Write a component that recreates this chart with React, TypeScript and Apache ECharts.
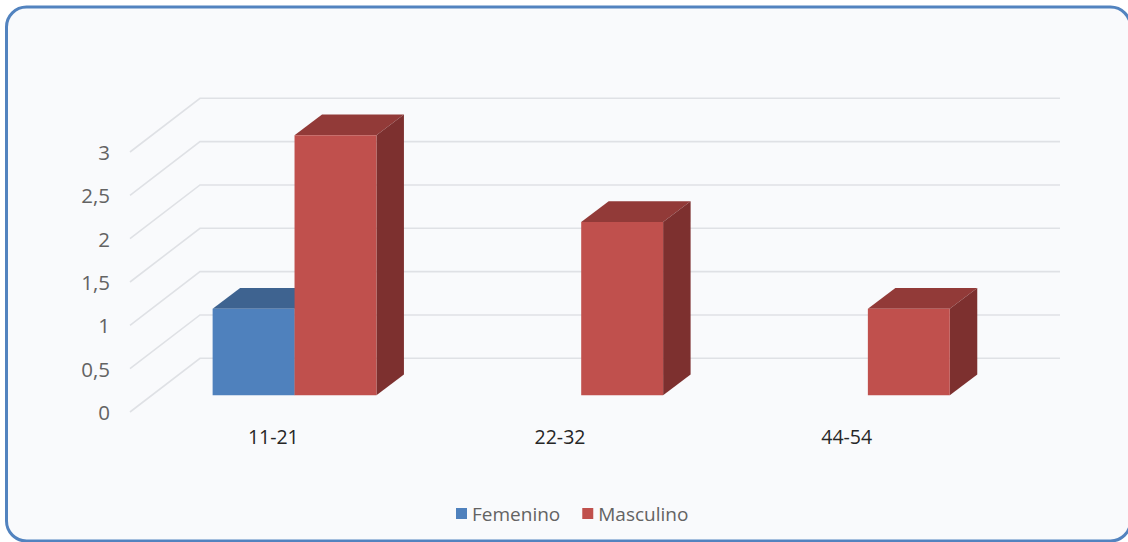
import React, { useEffect, useRef } from "react";
import * as echarts from "echarts";

const categories = ["11-21", "22-32", "44-54"];
const femenino: (number | null)[] = [1, null, null];
const masculino: (number | null)[] = [3, 2, 1];
const yTicks = [0, 0.5, 1, 1.5, 2, 2.5, 3];

const FONT = "'Open Sans', Lato, sans-serif";
const WALL_DX = 70;
const WALL_DY = -53.7;
const FRONT_DX = 21.2;
const FRONT_DY = -16.7;
const BAR_DX = 27.5;
const BAR_DY = -20.7;
const BARS_PER_BAND = 3.5;

function wallItem(params: any, api: any) {
  const y = api.coord([0, api.value(0)])[1];
  const sys = params.coordSys;
  const x0 = sys.x;
  const style = { stroke: "#dfe1e5", lineWidth: 1.6, fill: "none" };
  return {
    type: "polyline",
    shape: {
      points: [
        [x0, y],
        [x0 + WALL_DX, y + WALL_DY],
        [x0 + sys.width + WALL_DX, y + WALL_DY],
      ],
    },
    style,
    silent: true,
  };
}

function barItem(seriesPos: number, front: string, top: string, side: string) {
  return (_params: any, api: any) => {
    const value = api.value(1);
    if (value == null || isNaN(value)) return null;
    const band = api.size([1, 0])[0];
    const w = band / BARS_PER_BAND;
    const c = api.coord([api.value(0), value]);
    const b = api.coord([api.value(0), 0]);
    const x1 = c[0] + FRONT_DX + (seriesPos - 1) * w;
    const x2 = x1 + w;
    const yt = c[1] + FRONT_DY;
    const yb = b[1] + FRONT_DY;
    return {
      type: "group",
      children: [
        {
          type: "polygon",
          shape: { points: [[x1, yt], [x1 + BAR_DX, yt + BAR_DY], [x2 + BAR_DX, yt + BAR_DY], [x2, yt]] },
          style: { fill: top },
        },
        {
          type: "polygon",
          shape: { points: [[x2, yt], [x2 + BAR_DX, yt + BAR_DY], [x2 + BAR_DX, yb + BAR_DY], [x2, yb]] },
          style: { fill: side },
        },
        {
          type: "rect",
          shape: { x: x1, y: yt, width: w, height: yb - yt },
          style: { fill: front },
        },
      ],
    };
  };
}

export default function App() {
  const ref = useRef<HTMLDivElement>(null);
  useEffect(() => {
    const chart = echarts.init(ref.current!, undefined, { renderer: "svg" });
    chart.setOption({
      animation: false,
      backgroundColor: "#ffffff",
      graphic: [
        {
          type: "rect",
          z: -10,
          silent: true,
          shape: { x: 6.5, y: 7, width: 1124, height: 534, r: 20 },
          style: { fill: "#f9fafc", stroke: "#5283bf", lineWidth: 3 },
        },
      ],
      grid: { left: 130, width: 860, top: 152, height: 260 },
      legend: {
        left: 451,
        top: 499,
        itemWidth: 11,
        itemHeight: 11,
        itemGap: 22,
        selectedMode: false,
        icon: "rect",
        data: ["Femenino", "Masculino"],
        textStyle: { fontFamily: FONT, fontSize: 19, color: "#636363" },
      },
      xAxis: {
        type: "category",
        data: categories,
        axisLine: { show: false },
        axisTick: { show: false },
        axisLabel: { fontFamily: FONT, fontSize: 19.5, color: "#262626", margin: 14 },
      },
      yAxis: {
        type: "value",
        min: 0,
        max: 3,
        interval: 0.5,
        axisLine: { show: false },
        axisTick: { show: false },
        splitLine: { show: false },
        axisLabel: {
          fontFamily: FONT,
          fontSize: 20.5,
          color: "#636363",
          margin: 20,
          formatter: (v: number) => String(v).replace(".", ","),
        },
      },
      series: [
        {
          type: "custom",
          name: "wall",
          silent: true,
          coordinateSystem: "cartesian2d",
          renderItem: wallItem,
          encode: { y: 0 },
          data: yTicks.map((v) => [v]),
          z: 1,
        },
        {
          type: "custom",
          name: "Femenino",
          renderItem: barItem(0, "#4f81bd", "#3e6390", "#355a85"),
          itemStyle: { color: "#4f81bd" },
          encode: { x: 0, y: 1 },
          data: femenino.map((v, i) => [i, v]),
          z: 2,
        },
        {
          type: "custom",
          name: "Masculino",
          renderItem: barItem(1, "#c0504d", "#923a38", "#7d302f"),
          itemStyle: { color: "#c0504d" },
          encode: { x: 0, y: 1 },
          data: masculino.map((v, i) => [i, v]),
          z: 3,
        },
      ],
    });
    return () => chart.dispose();
  }, []);
  return (
    <div
      ref={ref}
      style={{ position: "fixed", left: 0, top: 0, width: 1128, height: 542 }}
    />
  );
}
